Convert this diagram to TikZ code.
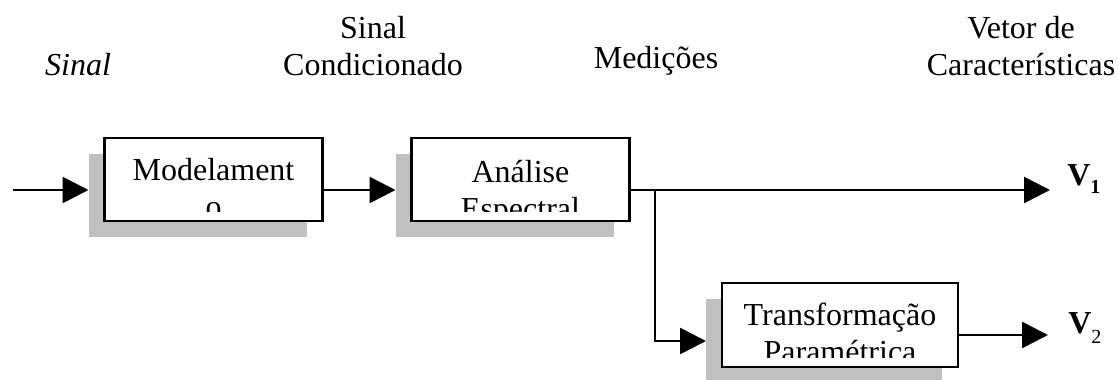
\documentclass[tikz,border=0pt]{standalone}
\usepackage{fontspec}
\setmainfont{Liberation Serif}
\usetikzlibrary{arrows.meta}
\definecolor{shadowgray}{HTML}{C0C0C0}
\tikzset{
  blk/.style={draw=black, fill=white, line width=2pt, minimum height=62.25pt,
    inner sep=0pt, outer sep=0pt},
  blkshadow/.style={fill=shadowgray, minimum height=62.25pt, inner sep=0pt, outer sep=0pt},
  lbl/.style={font=\fontsize{24}{27.75}\selectfont, align=center, inner sep=0pt},
  vlbl/.style={font=\fontsize{24}{28}\selectfont\bfseries, inner sep=0pt, anchor=base west},
  arr/.style={line width=2pt, -{Triangle[length=19.5pt,width=19.5pt]}},
}
\begin{document}
\begin{tikzpicture}[x=0.75pt, y=-0.75pt]
\useasboundingbox (0,0) rectangle (1118,379);

% block centres
\coordinate (c1) at (213.5,179.5);
\coordinate (c2) at (520.5,179.5);
\coordinate (c3) at (840,325);

% grey shadows behind the blocks
\node[blkshadow, minimum width=163.5pt] (m-sh) at ([shift={(-16,16)}]c1) {};
\node[blkshadow, minimum width=163.5pt] (a-sh) at ([shift={(-16,16)}]c2) {};
\node[blkshadow, minimum width=177pt, minimum height=63pt] (t-sh) at ([shift={(-16,16)}]c3) {};

% blocks
\node[blk, minimum width=163.5pt] (m) at (c1) {};
\node[blk, minimum width=163.5pt] (a) at (c2) {};
\node[blk, minimum width=177pt, minimum height=63pt] (t) at (c3) {};

% block texts (base = last line), cut off by the inner margin of each block
\begin{scope}
  \clip (m.north west) rectangle ([yshift=7.5pt]m.south east);
  \node[lbl, anchor=base] (m-txt) at (213.5,217) {Modelament\\o};
\end{scope}
\begin{scope}
  \clip (a.north west) rectangle ([yshift=7.5pt]a.south east);
  \node[lbl, anchor=base] (a-txt) at (520.5,219) {Análise\\Espectral};
\end{scope}
\begin{scope}
  \clip (t.north west) rectangle ([yshift=7.5pt]t.south east);
  \node[lbl, anchor=base] (t-txt) at (840,362) {Transformação\\Paramétrica};
\end{scope}

% signal labels along the top
\node[lbl, anchor=base, font=\fontsize{24}{27.75}\selectfont\itshape] (in-lbl) at (78,75) {Sinal};
\node[lbl, anchor=base] (cond-lbl) at (373,75) {Sinal\\Condicionado};
\node[lbl, anchor=base] (med-lbl) at (656,68) {Medições};
\node[lbl, anchor=base] (vet-lbl) at (1021,75) {Vetor de\\Características};

% output vectors
\node[vlbl] (v1) at (1067,185) {V\raisebox{-6pt}{\fontsize{15}{16}\selectfont 1}};
\node[vlbl] (v2) at (1068,333) {V\raisebox{-7.5pt}{\fontsize{15}{16}\selectfont\mdseries 2}};

% connectors
\coordinate (src) at (13,190);
\coordinate (br) at (655,190);
\coordinate (v1tip) at (1050,190);
\coordinate (v2tip) at (1048,335);
\draw[arr] (src) -- (src -| m-sh.west);
\draw[arr] (m.east |- src) -- (src -| a-sh.west);
\draw[arr] (a.east |- src) -- (v1tip);
\draw[arr] (br) |- (t-sh.west);
\draw[arr] ([yshift=-7.5pt]t.east) -- (v2tip);
\end{tikzpicture}
\end{document}
